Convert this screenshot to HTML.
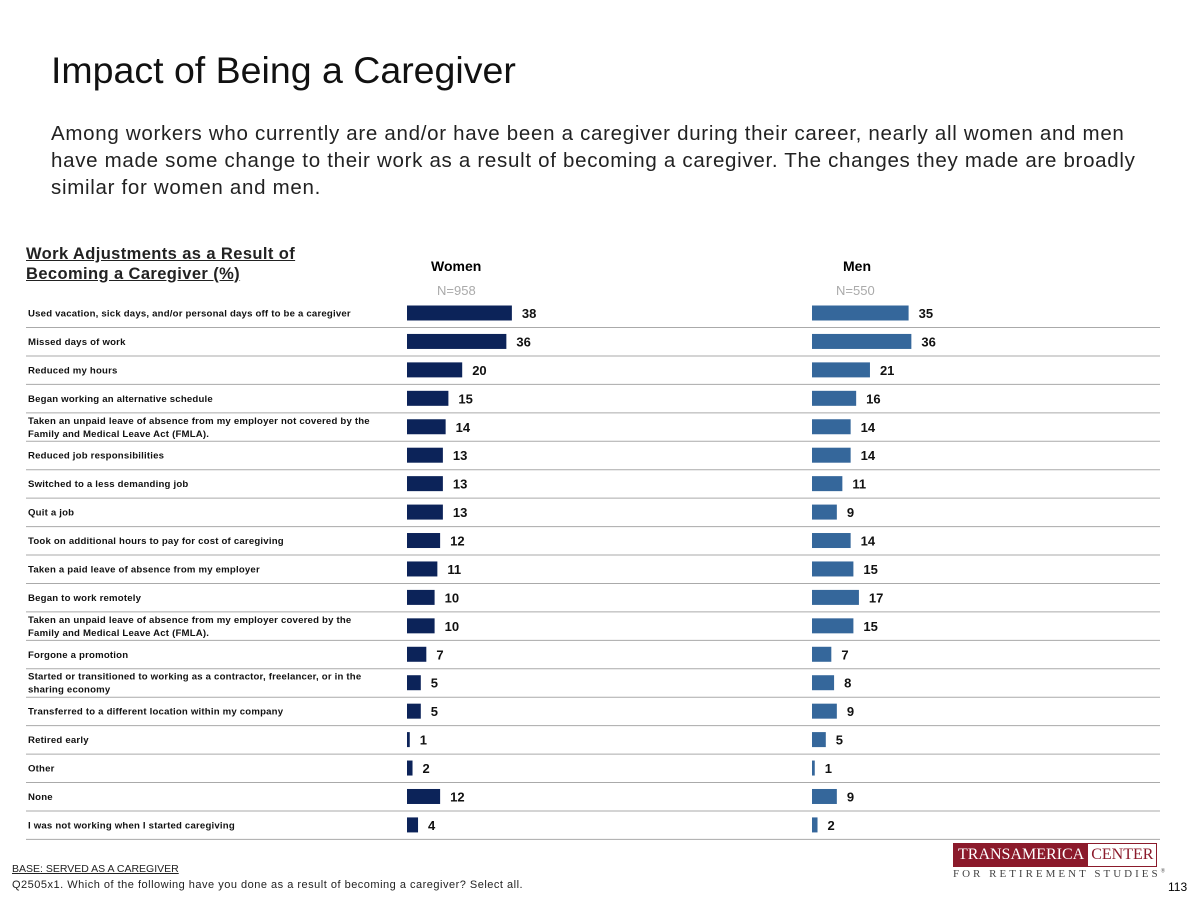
<!DOCTYPE html>
<html><head><meta charset="utf-8"><style>
body{margin:0;width:1200px;height:900px;background:#fff;font-family:"Liberation Sans",sans-serif;position:relative;overflow:hidden}
.t{position:absolute;white-space:nowrap}
</style></head><body>
<div class="t" style="left:51px;top:49px;font-size:37.5px;color:#111">Impact of Being a Caregiver</div>
<div class="t" style="left:51px;top:120px;font-size:20.5px;line-height:27px;color:#222;letter-spacing:0.7px">Among workers who currently are and/or have been a caregiver during their career, nearly all women and men<br>have made some change to their work as a result of becoming a caregiver. The changes they made are broadly<br>similar for women and men.</div>
<div class="t" style="left:26px;top:244px;font-size:16.5px;line-height:20px;font-weight:bold;color:#222;text-decoration:underline;letter-spacing:0.4px">Work Adjustments as a Result of<br>Becoming a Caregiver (%)</div>
<div class="t" style="left:431px;top:258px;font-size:14px;font-weight:bold">Women</div>
<div class="t" style="left:843px;top:258px;font-size:14px;font-weight:bold">Men</div>
<div class="t" style="left:437px;top:283px;font-size:13px;color:#aaa">N=958</div>
<div class="t" style="left:836px;top:283px;font-size:13px;color:#aaa">N=550</div>
<svg id="chart" width="1200" height="900" style="position:absolute;left:0;top:0"></svg>
<div class="t" style="left:12px;top:863px;font-size:10.5px;text-decoration:underline;color:#222">BASE: SERVED AS A CAREGIVER</div>
<div class="t" style="left:12px;top:879px;font-size:11px;color:#222;letter-spacing:0.5px">Q2505x1. Which of the following have you done as a result of becoming a caregiver? Select all.</div>
<div class="t" style="left:953px;top:843px;height:22px;border:1px solid #8b1a2b;display:flex;font-family:'Liberation Serif',serif;font-size:16px;line-height:22px">
<span style="background:#8b1a2b;color:#fff;padding:0 4px">TRANSAMERICA</span><span style="color:#8b1a2b;padding:0 3px">CENTER</span></div>
<div class="t" style="left:953px;top:868px;font-family:'Liberation Serif',serif;font-size:11px;letter-spacing:3px;color:#444">FOR RETIREMENT STUDIES<sup style="font-size:6px">®</sup></div>
<div class="t" style="left:1168px;top:880px;font-size:12px">113</div>
<script>
const categories=["Used vacation, sick days, and/or personal days off to be a caregiver","Missed days of work","Reduced my hours","Began working an alternative schedule","Taken an unpaid leave of absence from my employer not covered by the|Family and Medical Leave Act (FMLA).","Reduced job responsibilities","Switched to a less demanding job","Quit a job","Took on additional hours to pay for cost of caregiving","Taken a paid leave of absence from my employer","Began to work remotely","Taken an unpaid leave of absence from my employer covered by the|Family and Medical Leave Act (FMLA).","Forgone a promotion","Started or transitioned to working as a contractor, freelancer, or in the|sharing economy","Transferred to a different location within my company","Retired early","Other","None","I was not working when I started caregiving"];
const women=[38,36,20,15,14,13,13,13,12,11,10,10,7,5,5,1,2,12,4];
const men=[35,36,21,16,14,14,11,9,14,15,17,15,7,8,9,5,1,9,2];
const svg=document.getElementById('chart');const NS='http://www.w3.org/2000/svg';
const rowY=i=>313+i*28.44, xs=v=>v*2.76;
function mk(t,a){const e=document.createElementNS(NS,t);for(const k in a)e.setAttribute(k,a[k]);svg.appendChild(e);return e;}
categories.forEach((c,i)=>{
 const y=rowY(i);
 const ln=mk('line',{x1:26,x2:1160,y1:y+14.5,y2:y+14.5,stroke:'#aaa','stroke-width':1});
 
 
 const parts=c.split('|');
 const tx=mk('text',{x:28,y:parts.length>1?y-3:y+3.5,'font-size':9.6,'letter-spacing':0.2,'font-weight':'bold',fill:'#111','font-family':'Liberation Sans, sans-serif'});
 
 
 parts.forEach((p,j)=>{const ts=document.createElementNS(NS,'tspan');ts.setAttribute('x',28);if(j)ts.setAttribute('dy',13);ts.textContent=p;tx.appendChild(ts);});
 [[women[i],407,'#0c2359','women'],[men[i],812,'#35679b','men']].forEach(([v,x0,col,nm])=>{
  const b=mk('rect',{x:x0,y:y-7.5,width:xs(v),height:15,fill:col});
  
  
  const l=mk('text',{x:x0+xs(v)+10,y:y+5,'font-size':13,'font-weight':'bold',fill:'#111','font-family':'Liberation Sans, sans-serif'});
  
  
  l.textContent=v;
 });
});
</script>
</body></html>
